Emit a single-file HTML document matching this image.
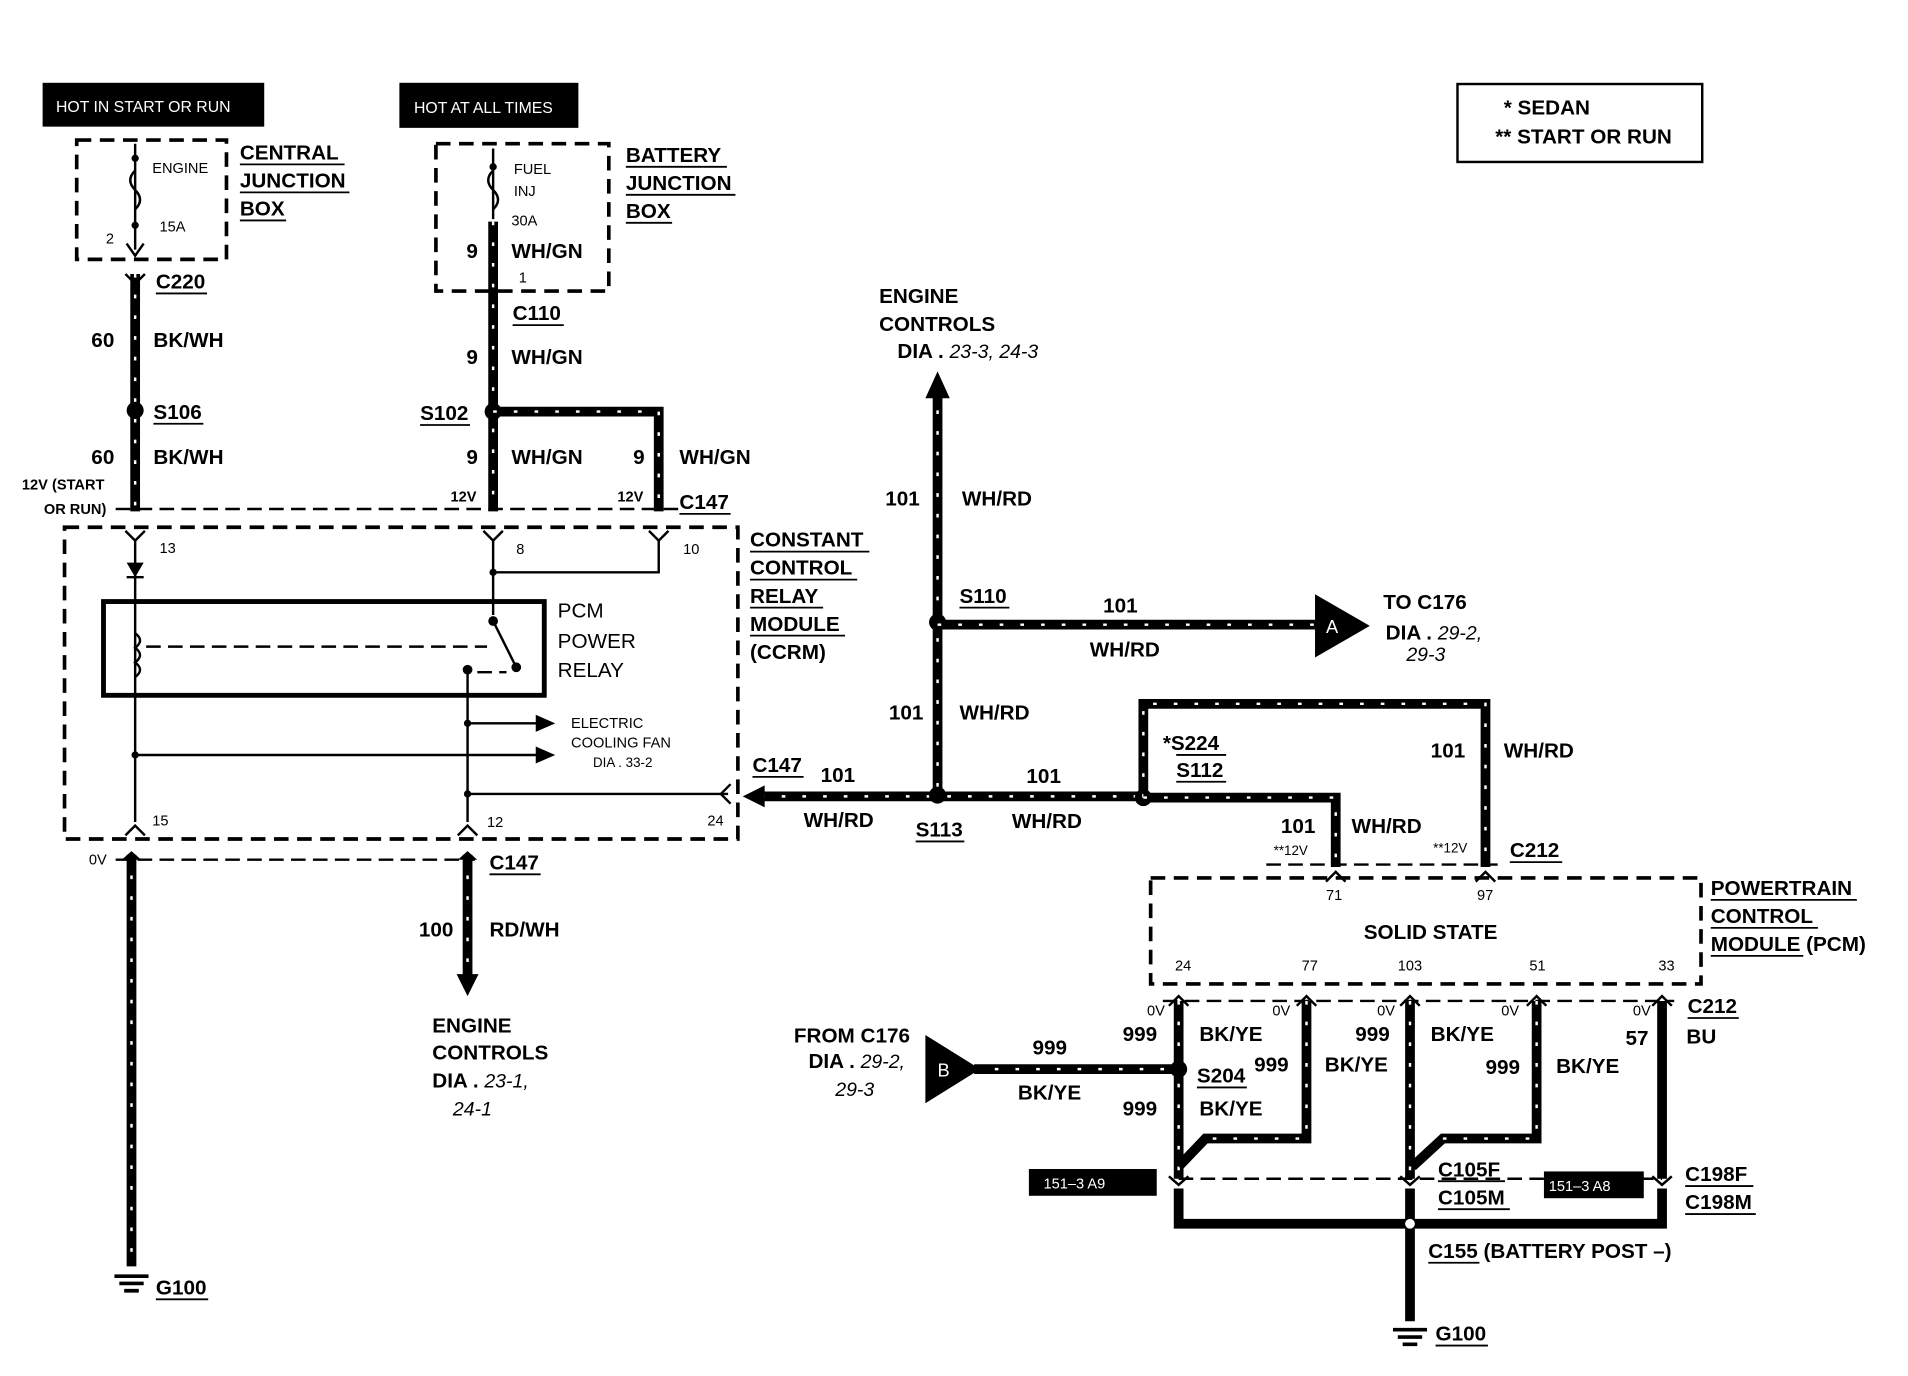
<!DOCTYPE html>
<html><head><meta charset="utf-8"><style>
html,body{margin:0;padding:0;background:#fff;width:1908px;height:1376px;overflow:hidden;}
svg{display:block;}
text{font-family:"Liberation Sans",Arial,sans-serif;font-weight:bold;fill:#000;}
.l{font-size:17px;}
.s{font-size:12px;font-weight:normal;}
.i{font-style:italic;font-weight:normal;font-size:16px;}
.w{stroke:#000;stroke-width:8;fill:none;}
.t{stroke:#000;stroke-width:2;fill:none;}
.d{stroke:#000;stroke-width:3;fill:none;stroke-dasharray:12 7;}
.dt{stroke:#000;stroke-width:2;fill:none;stroke-dasharray:12 6;}
.wd{stroke:#fff;stroke-width:2;fill:none;stroke-dasharray:3 14;}
.u{stroke:#000;stroke-width:1.5;}
</style></head><body>
<svg width="1908" height="1376" viewBox="0 0 1567 1130" preserveAspectRatio="none" xmlns="http://www.w3.org/2000/svg">
<rect width="1567" height="1130" fill="#fff"/>
<rect x="35" y="68" width="182" height="36" fill="#000"/>
<text x="46" y="92" class="s" style="fill:#fff;font-size:13px">HOT IN START OR RUN</text>
<rect x="328" y="68" width="147" height="37" fill="#000"/>
<text x="340" y="93" class="s" style="fill:#fff;font-size:13px">HOT AT ALL TIMES</text>
<rect x="1197" y="69" width="201" height="64" class="t"/>
<text x="1235" y="94" class="l">* SEDAN</text>
<text x="1228" y="118" class="l">** START OR RUN</text>

<rect x="63" y="115" width="123" height="98" class="d"/>
<line x1="111" y1="118" x2="111" y2="205" class="t"/>
<path d="M111 140 q-8 8 0 16 q8 8 0 16 M104 200 l7 10 l7 -10" class="t"/>
<circle cx="111" cy="130" r="3"/><circle cx="111" cy="185" r="3"/>
<text x="125" y="142" class="s">ENGINE</text><text x="131" y="190" class="s">15A</text><text x="87" y="200" class="s">2</text>
<text x="197" y="131" class="l">CENTRAL</text><text x="197" y="154" class="l">JUNCTION</text><text x="197" y="177" class="l">BOX</text>
<line x1="197" y1="135" x2="283" y2="135" class="u"/><line x1="197" y1="158" x2="287" y2="158" class="u"/><line x1="197" y1="181" x2="235" y2="181" class="u"/>
<line x1="111" y1="225" x2="111" y2="420" class="w"/><line x1="111" y1="225" x2="111" y2="420" class="wd"/>
<path d="M103 225 l8 8 l8 -8" class="t"/>
<text x="128" y="237" class="l">C220</text><line x1="128" y1="241" x2="170" y2="241" class="u"/>
<text x="75" y="285" class="l">60</text><text x="126" y="285" class="l">BK/WH</text>
<circle cx="111" cy="337" r="7"/>
<text x="126" y="344" class="l">S106</text><line x1="126" y1="348" x2="167" y2="348" class="u"/>
<text x="75" y="381" class="l">60</text><text x="126" y="381" class="l">BK/WH</text>
<text x="18" y="402" class="s" style="font-weight:bold">12V (START</text><text x="36" y="422" class="s" style="font-weight:bold">OR RUN)</text>

<rect x="358" y="118" width="142" height="121" class="d"/>
<line x1="405" y1="122" x2="405" y2="180" class="t"/>
<path d="M405 140 q-8 8 0 16 q8 8 0 16" class="t"/>
<circle cx="405" cy="137" r="3"/>
<text x="422" y="143" class="s">FUEL</text><text x="422" y="161" class="s">INJ</text><text x="420" y="185" class="s">30A</text>
<text x="383" y="212" class="l">9</text><text x="420" y="212" class="l">WH/GN</text><text x="426" y="232" class="s">1</text>
<line x1="405" y1="182" x2="405" y2="420" class="w"/><line x1="405" y1="182" x2="405" y2="420" class="wd"/>
<text x="514" y="133" class="l">BATTERY</text><text x="514" y="156" class="l">JUNCTION</text><text x="514" y="179" class="l">BOX</text>
<line x1="514" y1="137" x2="597" y2="137" class="u"/><line x1="514" y1="160" x2="604" y2="160" class="u"/><line x1="514" y1="183" x2="552" y2="183" class="u"/>
<text x="421" y="263" class="l">C110</text><line x1="421" y1="267" x2="463" y2="267" class="u"/>
<text x="383" y="299" class="l">9</text><text x="420" y="299" class="l">WH/GN</text>
<circle cx="405" cy="338" r="7"/>
<text x="345" y="345" class="l">S102</text><line x1="345" y1="349" x2="386" y2="349" class="u"/>
<path d="M405 338 H541 V420" class="w"/><path d="M405 338 H541 V420" class="wd"/>
<text x="383" y="381" class="l">9</text><text x="420" y="381" class="l">WH/GN</text>
<text x="520" y="381" class="l">9</text><text x="558" y="381" class="l">WH/GN</text>
<text x="370" y="412" class="s" style="font-weight:bold">12V</text><text x="507" y="412" class="s" style="font-weight:bold">12V</text>
<text x="558" y="418" class="l">C147</text><line x1="558" y1="422" x2="600" y2="422" class="u"/>
<line x1="95" y1="418" x2="560" y2="418" class="dt"/>

<rect x="53" y="433" width="553" height="256" class="d"/>
<path d="M103 436 l8 8 l8 -8 M397 436 l8 8 l8 -8 M533 436 l8 8 l8 -8" class="t"/>
<text x="131" y="454" class="s">13</text><text x="424" y="455" class="s">8</text><text x="561" y="455" class="s">10</text>
<line x1="111" y1="444" x2="111" y2="675" class="t"/>
<path d="M104 462 h14 l-7 12 z"/><line x1="104" y1="474" x2="118" y2="474" class="t"/>
<line x1="405" y1="444" x2="405" y2="505" class="t"/>
<path d="M405 470 H541 V444" class="t"/><circle cx="405" cy="470" r="3"/>
<rect x="85" y="494" width="362" height="77" fill="none" stroke="#000" stroke-width="4"/>
<path d="M111 520 q8 6 0 12 q8 6 0 12 q8 6 0 12" class="t"/>
<line x1="120" y1="531" x2="400" y2="531" class="dt"/>
<circle cx="405" cy="510" r="4"/><line x1="405" y1="510" x2="424" y2="548" class="t"/><circle cx="424" cy="548" r="4"/>
<circle cx="384" cy="550" r="4"/><line x1="392" y1="552" x2="416" y2="552" class="dt"/>
<line x1="384" y1="550" x2="384" y2="675" class="t"/>
<line x1="384" y1="594" x2="445" y2="594" class="t"/><path d="M440 587 l16 7 l-16 7 z"/><circle cx="384" cy="594" r="3"/>
<line x1="111" y1="620" x2="445" y2="620" class="t"/><path d="M440 613 l16 7 l-16 7 z"/><circle cx="111" cy="620" r="3"/>
<line x1="384" y1="652" x2="598" y2="652" class="t"/><path d="M600 644 l-8 8 l8 8" class="t"/><circle cx="384" cy="652" r="3"/>
<text x="458" y="507" class="l" style="font-weight:normal">PCM</text><text x="458" y="532" class="l" style="font-weight:normal">POWER</text><text x="458" y="556" class="l" style="font-weight:normal">RELAY</text>
<text x="469" y="598" class="s">ELECTRIC</text><text x="469" y="614" class="s">COOLING FAN</text><text x="487" y="630" class="s" style="font-size:11px">DIA . 33-2</text>
<path d="M103 686 l8 -8 l8 8 M376 686 l8 -8 l8 8" class="t"/>
<text x="125" y="678" class="s">15</text><text x="400" y="679" class="s">12</text><text x="581" y="678" class="s">24</text>
<text x="616" y="449" class="l">CONSTANT</text><text x="616" y="472" class="l">CONTROL</text><text x="616" y="495" class="l">RELAY</text><text x="616" y="518" class="l">MODULE</text><text x="616" y="541" class="l">(CCRM)</text>
<line x1="616" y1="453" x2="714" y2="453" class="u"/><line x1="616" y1="476" x2="704" y2="476" class="u"/><line x1="616" y1="499" x2="676" y2="499" class="u"/><line x1="616" y1="522" x2="694" y2="522" class="u"/>

<line x1="95" y1="706" x2="390" y2="706" class="dt"/>
<text x="73" y="710" class="s">0V</text>
<line x1="108" y1="702" x2="108" y2="1040" class="w"/><line x1="108" y1="702" x2="108" y2="1040" class="wd"/>
<path d="M100 706 l8 -7 l8 7 z"/>
<path d="M94 1048 h28 M98 1054 h20 M102 1060 h12" class="t" style="stroke-width:3"/>
<text x="128" y="1063" class="l">G100</text><line x1="128" y1="1067" x2="171" y2="1067" class="u"/>
<line x1="384" y1="702" x2="384" y2="805" class="w"/><line x1="384" y1="702" x2="384" y2="805" class="wd"/>
<path d="M376 706 l8 -7 l8 7 z"/><path d="M375 800 l9 18 l9 -18 z"/>
<text x="402" y="714" class="l">C147</text><line x1="402" y1="718" x2="444" y2="718" class="u"/>
<text x="344" y="769" class="l">100</text><text x="402" y="769" class="l">RD/WH</text>
<text x="355" y="848" class="l">ENGINE</text><text x="355" y="870" class="l">CONTROLS</text><text x="355" y="893" class="l">DIA . <tspan class="i">23-1,</tspan></text><text x="372" y="916" class="i">24-1</text>

<line x1="625" y1="654" x2="940" y2="654" class="w"/><line x1="625" y1="654" x2="940" y2="654" class="wd"/>
<path d="M610 654 l18 -9 v18 z"/>
<text x="618" y="634" class="l">C147</text><line x1="618" y1="638" x2="660" y2="638" class="u"/>
<text x="674" y="642" class="l">101</text><text x="660" y="679" class="l">WH/RD</text>
<circle cx="770" cy="653" r="7"/>
<text x="752" y="687" class="l">S113</text><line x1="752" y1="691" x2="792" y2="691" class="u"/>
<text x="843" y="643" class="l">101</text><text x="831" y="680" class="l">WH/RD</text>
<line x1="770" y1="320" x2="770" y2="653" class="w"/><line x1="770" y1="320" x2="770" y2="653" class="wd"/>
<path d="M760 327 l10 -22 l10 22 z"/>
<text x="722" y="249" class="l">ENGINE</text><text x="722" y="272" class="l">CONTROLS</text><text x="737" y="294" class="l">DIA . <tspan class="i">23-3, 24-3</tspan></text>
<text x="727" y="415" class="l">101</text><text x="790" y="415" class="l">WH/RD</text>
<circle cx="770" cy="511" r="7"/>
<text x="788" y="495" class="l">S110</text><line x1="788" y1="499" x2="829" y2="499" class="u"/>
<line x1="770" y1="513" x2="1085" y2="513" class="w"/><line x1="770" y1="513" x2="1085" y2="513" class="wd"/>
<path d="M1080 488 l45 26 l-45 26 z"/><text x="1089" y="520" class="s" style="fill:#fff;font-size:15px">A</text>
<text x="906" y="503" class="l">101</text><text x="895" y="539" class="l">WH/RD</text>
<text x="1136" y="500" class="l">TO C176</text><text x="1138" y="525" class="l">DIA . <tspan class="i">29-2,</tspan></text><text x="1155" y="543" class="i">29-3</text>
<text x="730" y="591" class="l">101</text><text x="788" y="591" class="l">WH/RD</text>
<circle cx="939" cy="655" r="7"/>
<path d="M939 655 V578 H1220 V712" class="w"/><path d="M939 655 V578 H1220 V712" class="wd"/>
<path d="M939 655 H1097 V712" class="w"/><path d="M939 655 H1097 V712" class="wd"/>
<text x="955" y="616" class="l">*S224</text><line x1="966" y1="620" x2="1007" y2="620" class="u"/>
<text x="966" y="638" class="l">S112</text><line x1="966" y1="642" x2="1007" y2="642" class="u"/>
<text x="1175" y="622" class="l">101</text><text x="1235" y="622" class="l">WH/RD</text>
<text x="1052" y="684" class="l">101</text><text x="1110" y="684" class="l">WH/RD</text>
<text x="1046" y="702" class="s" style="font-size:11px">**12V</text><text x="1177" y="700" class="s" style="font-size:11px">**12V</text>
<text x="1240" y="704" class="l">C212</text><line x1="1240" y1="708" x2="1283" y2="708" class="u"/>
<line x1="1040" y1="710" x2="1230" y2="710" class="dt"/>

<rect x="945" y="721" width="452" height="87" class="d"/>
<path d="M1089 724 l8 -8 l8 8 M1212 724 l8 -8 l8 8" class="t"/>
<text x="1089" y="739" class="s">71</text><text x="1213" y="739" class="s">97</text>
<text x="1120" y="771" class="l">SOLID STATE</text>
<text x="965" y="797" class="s">24</text><text x="1069" y="797" class="s">77</text><text x="1148" y="797" class="s">103</text><text x="1256" y="797" class="s">51</text><text x="1362" y="797" class="s">33</text>
<text x="1405" y="735" class="l">POWERTRAIN</text><text x="1405" y="758" class="l">CONTROL</text><text x="1405" y="781" class="l">MODULE <tspan style="font-weight:bold">(PCM)</tspan></text>
<line x1="1405" y1="739" x2="1525" y2="739" class="u"/><line x1="1405" y1="762" x2="1493" y2="762" class="u"/><line x1="1405" y1="785" x2="1481" y2="785" class="u"/>
<line x1="955" y1="822" x2="1375" y2="822" class="dt"/>

<g>
<path d="M968 822 V968" class="w"/><path d="M968 822 V968" class="wd"/>
<path d="M1073 822 V935 H990 L968 958" class="w"/><path d="M1073 822 V935 H990" class="wd"/>
<path d="M1158 822 V968" class="w"/><path d="M1158 822 V968" class="wd"/>
<path d="M1262 822 V935 H1185 L1160 958" class="w"/><path d="M1262 822 V935 H1185" class="wd"/>
<path d="M1365 822 V968" class="w"/>
</g>
<path d="M960 826 l8 -8 l8 8 M1065 826 l8 -8 l8 8 M1150 826 l8 -8 l8 8 M1254 826 l8 -8 l8 8 M1357 826 l8 -8 l8 8" class="t"/>
<line x1="968" y1="968" x2="1365" y2="968" class="dt"/>
<path d="M960 966 l8 7 l8 -7 M1150 966 l8 7 l8 -7 M1357 966 l8 7 l8 -7" class="t"/>
<path d="M968 976 V1005 H1365 V976" class="w"/>
<line x1="1158" y1="976" x2="1158" y2="1085" class="w"/>
<circle cx="1158" cy="1005" r="4" fill="#fff"/>
<path d="M1144 1092 h28 M1148 1098 h20 M1152 1104 h12" class="t" style="stroke-width:3"/>
<text x="1179" y="1101" class="l">G100</text><line x1="1179" y1="1105" x2="1222" y2="1105" class="u"/>
<text x="1173" y="1033" class="l">C155 (BATTERY POST –)</text><line x1="1173" y1="1037" x2="1215" y2="1037" class="u"/>
<text x="942" y="834" class="s">0V</text><text x="1045" y="834" class="s">0V</text><text x="1131" y="834" class="s">0V</text><text x="1233" y="834" class="s">0V</text><text x="1341" y="834" class="s">0V</text>
<text x="922" y="855" class="l">999</text><text x="985" y="855" class="l">BK/YE</text>
<text x="1113" y="855" class="l">999</text><text x="1175" y="855" class="l">BK/YE</text>
<text x="1335" y="858" class="l">57</text><text x="1385" y="857" class="l">BU</text>
<text x="1386" y="832" class="l">C212</text><line x1="1386" y1="836" x2="1428" y2="836" class="u"/>
<text x="1030" y="880" class="l">999</text><text x="1088" y="880" class="l">BK/YE</text>
<text x="1220" y="882" class="l">999</text><text x="1278" y="881" class="l">BK/YE</text>
<circle cx="968" cy="878" r="7"/>
<text x="983" y="889" class="l">S204</text><line x1="983" y1="893" x2="1024" y2="893" class="u"/>
<text x="922" y="916" class="l">999</text><text x="985" y="916" class="l">BK/YE</text>
<line x1="800" y1="878" x2="968" y2="878" class="w"/><line x1="800" y1="878" x2="968" y2="878" class="wd"/>
<path d="M760 850 l45 28 l-45 28 z"/><text x="770" y="884" class="s" style="fill:#fff;font-size:15px">B</text>
<text x="848" y="866" class="l">999</text><text x="836" y="903" class="l">BK/YE</text>
<text x="652" y="856" class="l">FROM C176</text><text x="664" y="877" class="l">DIA . <tspan class="i">29-2,</tspan></text><text x="686" y="900" class="i">29-3</text>
<rect x="845" y="960" width="105" height="22" fill="#000"/><text x="857" y="976" class="s" style="fill:#fff">151–3 A9</text>
<rect x="1268" y="962" width="82" height="22" fill="#000"/><text x="1272" y="978" class="s" style="fill:#fff">151–3 A8</text>
<text x="1181" y="966" class="l">C105F</text><line x1="1181" y1="970" x2="1236" y2="970" class="u"/>
<text x="1181" y="989" class="l">C105M</text><line x1="1181" y1="993" x2="1240" y2="993" class="u"/>
<text x="1384" y="970" class="l">C198F</text><line x1="1384" y1="974" x2="1440" y2="974" class="u"/>
<text x="1384" y="993" class="l">C198M</text><line x1="1384" y1="997" x2="1442" y2="997" class="u"/>
</svg>
</body></html>
